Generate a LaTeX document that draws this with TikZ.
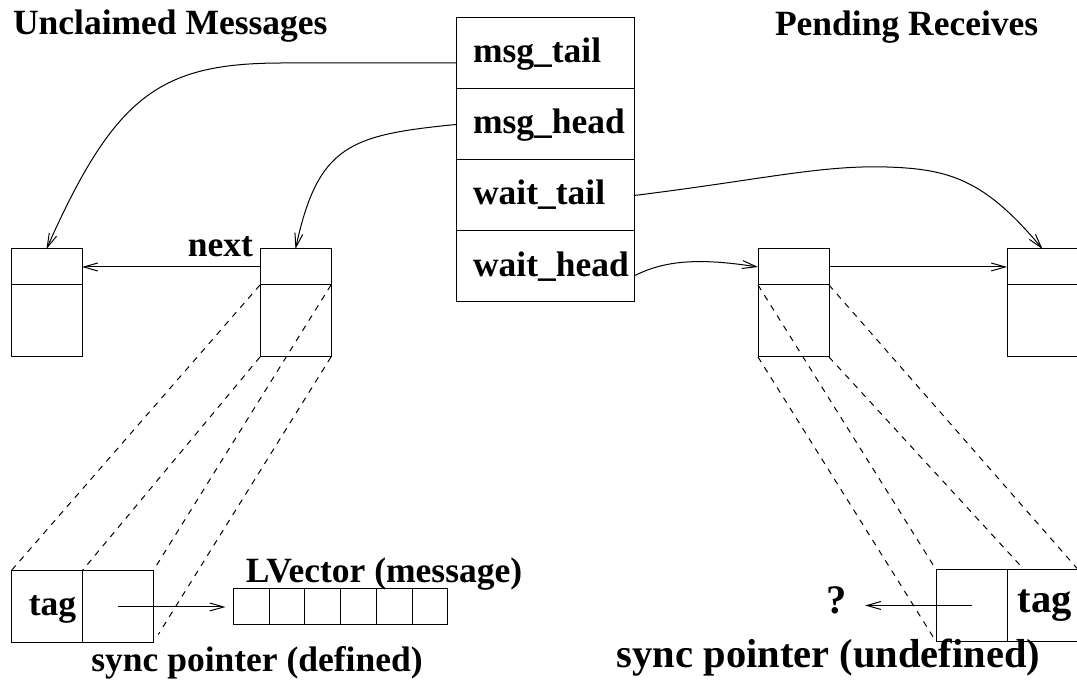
\documentclass[tikz,border=0pt]{standalone}
\usepackage{fontspec}
\setmainfont{Liberation Serif}
\usetikzlibrary{arrows.meta,calc}
\begin{document}
\begin{tikzpicture}[x=0.5pt,y=-0.5pt,line width=0.5pt,
  cell/.style={draw,inner sep=0pt,outer sep=0pt,minimum width=35.5pt,minimum height=18pt},
  body/.style={cell,minimum height=36pt},
  slot/.style={cell,minimum width=17.85pt},
  row/.style={draw,inner sep=0pt,outer sep=0pt,minimum width=89pt,minimum height=35.5pt},
  txt/.style={inner sep=0pt,outer sep=0pt,font=\bfseries\fontsize{17.75pt}{21pt}\selectfont},
  bigtxt/.style={txt,font=\bfseries\fontsize{20.25pt}{24pt}\selectfont},
  ptr/.style={-{Straight Barb[length=7pt,width=4pt]}},
  proj/.style={dash pattern=on 3pt off 3pt}]
\path[use as bounding box,fill=white] (0,0) rectangle (1077,688);
\clip (0,0) rectangle (1077,688);

% queue header
\node[row] (mt) at (545,53.5) {};
\node[row] (mh) at (545,124.5) {};
\node[row] (wt) at (545,195.5) {};
\node[row] (wh) at (545,266.5) {};
\node[txt,anchor=base west] (tmt) at (473,63) {msg\_tail};
\node[txt,anchor=base west] (tmh) at (473,134) {msg\_head};
\node[txt,anchor=base west] (twt) at (473,205) {wait\_tail};
\node[txt,anchor=base west] (twh) at (473,277) {wait\_head};

% list elements
\node[cell] (ua) at (46.5,267) {};
\node[body] (uab) at (46.5,321) {};
\node[cell] (ub) at (295.5,267) {};
\node[body] (ubb) at (295.5,321) {};
\node[cell] (pa) at (793.5,267) {};
\node[body] (pab) at (793.5,321) {};
\node[cell] (pb) at (1042.5,267) {};
\node[body] (pbb) at (1042.5,321) {};

% expanded elements
\node[body] (tagl) at (46.5,607) {};
\node[body] (synl) at (117.5,607) {};
\node[body] (synr) at (971.5,605.5) {};
\node[body] (tagr) at (1042.5,605.5) {};
\foreach \i in {1,...,6}
  \node[slot] (v\i) at ({233.5+35.7*(\i-0.5)},607) {};

% labels
\node[txt,anchor=base west] (h1) at (13,35) {Unclaimed Messages};
\node[txt,anchor=base west] (h2) at (775,36) {Pending Receives};
\node[txt,anchor=base east] (nx) at (253,257) {next};
\node[txt,anchor=base] (tl) at (52.5,616) {tag};
\node[bigtxt,anchor=base] (tr) at (1044.5,613) {tag};
\node[bigtxt,anchor=base] (q) at (837,614) {?};
\node[txt,anchor=base] (lv) at (384,583) {LVector (message)};
\node[txt,anchor=base] (sd) at (257,672) {sync pointer (defined)};
\node[bigtxt,anchor=base] (su) at (828.5,668) {sync pointer (undefined)};

% pointers
\draw[ptr] ($(mt.west)+(0,9.5)$) -- (283,63) .. controls (160,63) and (115,95) .. (ua.north);
\draw[ptr] (mh.west) .. controls (350,135) and (318,145) .. (ub.north);
\draw[ptr] (wt.east) .. controls (760,180) and (820,165) .. (887,167)
  .. controls (950,169) and (985,180) .. (pb.north);
\draw[ptr] ($(wh.east)+(0,9.5)$) .. controls (665,260) and (700,258) .. (pa.west);
\draw[ptr] (ub.west) -- (ua.east);
\draw[ptr] (pa.east) -- (pb.west);
\draw[ptr,shorten >=4pt] (synl.center) -- (v1.west);
\draw[ptr,shorten >=9pt] (synr.center) -- (q.east |- synr.center);

% projection lines
\draw[proj] (ubb.north west) -- (tagl.north west);
\draw[proj] (ubb.north east) -- (synl.north east);
\draw[proj] (ubb.south west) -- (tagl.north east);
\draw[proj,shorten >=5pt] (ubb.south east) -- (synl.south east);
\draw[proj] (pab.north west) -- (synr.north west);
\draw[proj] (pab.south west) -- (synr.south west);
\draw[proj] (pab.north east) -- (tagr.north east);
\draw[proj] (pab.south east) -- ($(tagr.north west)+(17,0)$);
\end{tikzpicture}
\end{document}
